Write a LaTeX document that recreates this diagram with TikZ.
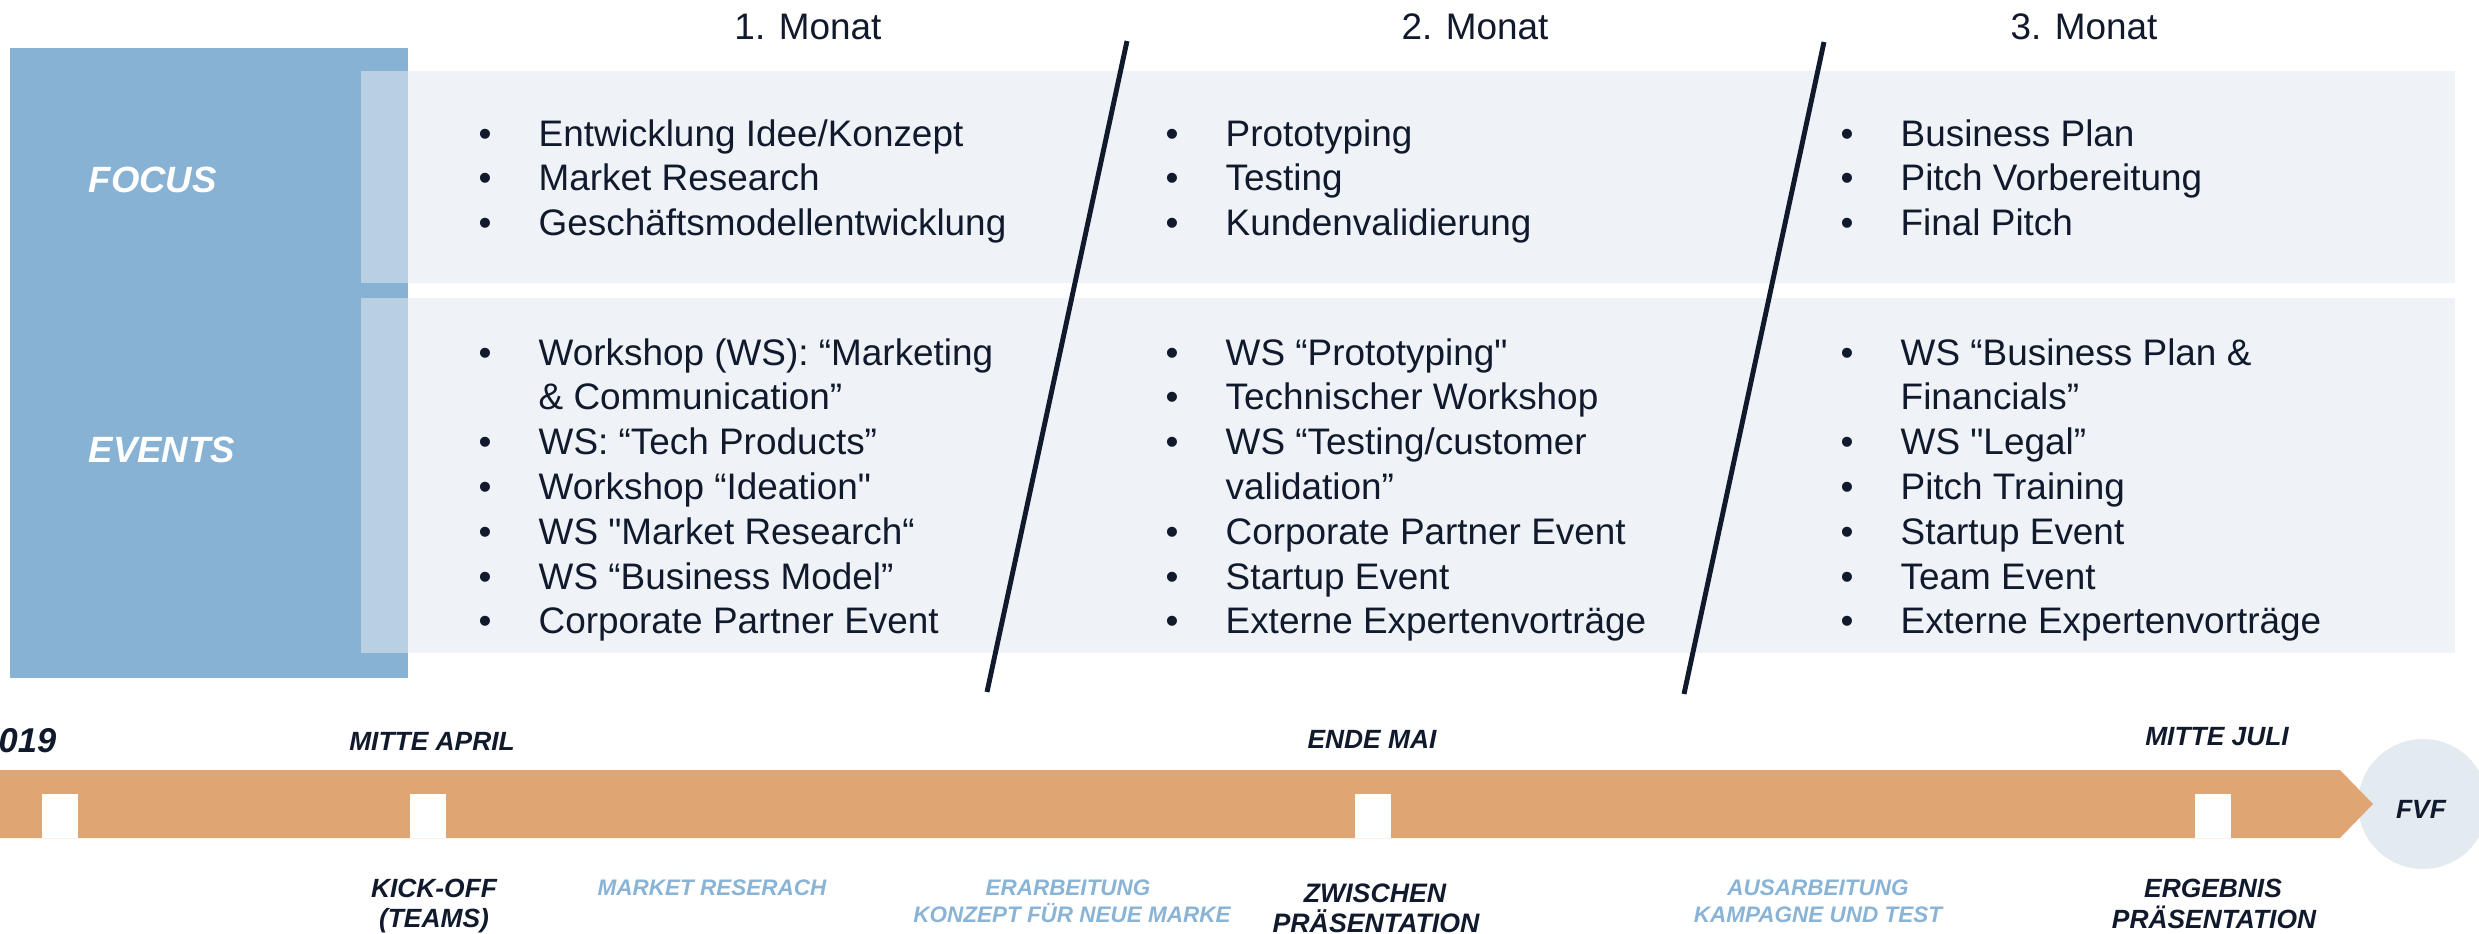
\documentclass[tikz,border=0pt]{standalone}
\usepackage{fontspec}
\setmainfont{Liberation Sans}[Ligatures=TeXOff]
\usepackage{xcolor}

\definecolor{sidebar}{HTML}{87B2D3}
\definecolor{sidestrip}{HTML}{B9D0E3}
\definecolor{panel}{HTML}{EFF3F7}
\definecolor{barorange}{HTML}{DFA573}
\definecolor{fvfgrey}{HTML}{E3EAF0}
\definecolor{ink}{HTML}{101A2C}
\definecolor{phaseblue}{HTML}{8AB4D6}

\newcommand{\bul}{\makebox[6mm][l]{\textbullet}}
\newcommand{\nobul}{\hspace*{6mm}}

\tikzset{
  itemtxt/.style={anchor=base west, inner sep=0pt, text=ink, font=\fontsize{10.5}{12.5}\selectfont},
  monthtxt/.style={anchor=base, inner sep=0pt, text=ink, font=\fontsize{10.5}{12.5}\selectfont},
  rowlabel/.style={anchor=west, inner sep=0pt, text=white, font=\fontsize{10.4}{12.5}\selectfont\bfseries\itshape},
  datelbl/.style={anchor=base, inner sep=0pt, text=ink, font=\fontsize{7.5}{9}\selectfont\bfseries\itshape},
  phaselbl/.style={anchor=base, inner sep=0pt, text=phaseblue, font=\fontsize{6.4}{8}\selectfont\bfseries\itshape},
  divider/.style={ink, line width=1.4pt}
}

\begin{document}
\begin{tikzpicture}[x=0.1mm, y=-0.1mm]
                \useasboundingbox (0,0) rectangle (2479,934);
                % left side bar and panels
                \fill[sidebar] (10,48) rectangle (408,678);
                \fill[sidestrip] (361,71) rectangle (408,283);
                \fill[sidestrip] (361,298) rectangle (408,653);
                \fill[panel] (408,71) rectangle (2455,283);
                \fill[panel] (408,298) rectangle (2455,653);
                \node[rowlabel] (focus) at (88,180) {FOCUS};
                \node[rowlabel] (events) at (88,450) {EVENTS};
                % months
                \node[monthtxt] (m1) at (808,39) {1. Monat};
                \node[monthtxt] (m2) at (1475,39) {2. Monat};
                \node[monthtxt] (m3) at (2084,39) {3. Monat};
                \draw[divider] (1127,41) -- (987,692);
                \draw[divider] (1824,42) -- (1684,694);
                % focus
                \foreach \t [count=\i from 0] in {{\bul Entwicklung Idee/Konzept}, {\bul Market Research}, {\bul Geschäftsmodellentwicklung}}
                    \node[itemtxt] (fo1-\i) at (478,{146+44.8*\i}) {\t};
                \foreach \t [count=\i from 0] in {{\bul Prototyping}, {\bul Testing}, {\bul Kundenvalidierung}}
                    \node[itemtxt] (fo2-\i) at (1165,{146+44.8*\i}) {\t};
                \foreach \t [count=\i from 0] in {{\bul Business Plan}, {\bul Pitch Vorbereitung}, {\bul Final Pitch}}
                    \node[itemtxt] (fo3-\i) at (1840,{146+44.8*\i}) {\t};
                % events
                \foreach \t [count=\i from 0] in {{\bul Workshop (WS): “Marketing}, {\nobul \& Communication”}, {\bul WS: “Tech Products”}, {\bul Workshop “Ideation"}, {\bul WS "Market Research“}, {\bul WS “Business Model”}, {\bul Corporate Partner Event}}
                    \node[itemtxt] (ev1-\i) at (478,{365+44.8*\i}) {\t};
                \foreach \t [count=\i from 0] in {{\bul WS “Prototyping"}, {\bul Technischer Workshop}, {\bul WS “Testing/customer}, {\nobul validation”}, {\bul Corporate Partner Event}, {\bul Startup Event}, {\bul Externe Expertenvorträge}}
                    \node[itemtxt] (ev2-\i) at (1165,{365+44.8*\i}) {\t};
                \foreach \t [count=\i from 0] in {{\bul WS “Business Plan \&}, {\nobul Financials”}, {\bul WS "Legal”}, {\bul Pitch Training}, {\bul Startup Event}, {\bul Team Event}, {\bul Externe Expertenvorträge}}
                    \node[itemtxt] (ev3-\i) at (1840,{365+44.8*\i}) {\t};
                % timeline
                \fill[fvfgrey] (2423,804) circle[radius=6.5mm];
                \fill[barorange] (0,770) -- (2340,770) -- (2373,804) -- (2340,838) -- (0,838) -- cycle;
                \foreach \x in {42,410,1355,2195}
                    \fill[white] (\x,794) rectangle +(36,44);
                \node[datelbl, anchor=base west, font=\fontsize{9.8}{11}\selectfont\bfseries\itshape] (year) at (-2,752) {019};
                \node[datelbl] (apr) at (432,750) {MITTE APRIL};
                \node[datelbl] (mai) at (1372,748) {ENDE MAI};
                \node[datelbl] (jul) at (2217,745) {MITTE JULI};
                \node[datelbl] (fvf) at (2421,818) {FVF};
                \node[datelbl] (kick) at (434,897) {KICK-OFF};
                \node[datelbl] (teams) at (434,927) {(TEAMS)};
                \node[phaselbl] (market) at (712,895) {MARKET RESERACH};
                \node[phaselbl] (erarb) at (1068,895) {ERARBEITUNG};
                \node[phaselbl] (konzept) at (1072,922) {KONZEPT FÜR NEUE MARKE};
                \node[datelbl, font=\fontsize{7.6}{9}\selectfont\bfseries\itshape] (zwischen) at (1375,902) {ZWISCHEN};
                \node[datelbl, font=\fontsize{7.6}{9}\selectfont\bfseries\itshape] (praes1) at (1376,932) {PRÄSENTATION};
                \node[phaselbl] (ausarb) at (1818,895) {AUSARBEITUNG};
                \node[phaselbl] (kampagne) at (1818,922) {KAMPAGNE UND TEST};
                \node[datelbl] (ergebnis) at (2213,897) {ERGEBNIS};
                \node[datelbl] (praes2) at (2214,928) {PRÄSENTATION};
            \end{tikzpicture}
\end{document}
